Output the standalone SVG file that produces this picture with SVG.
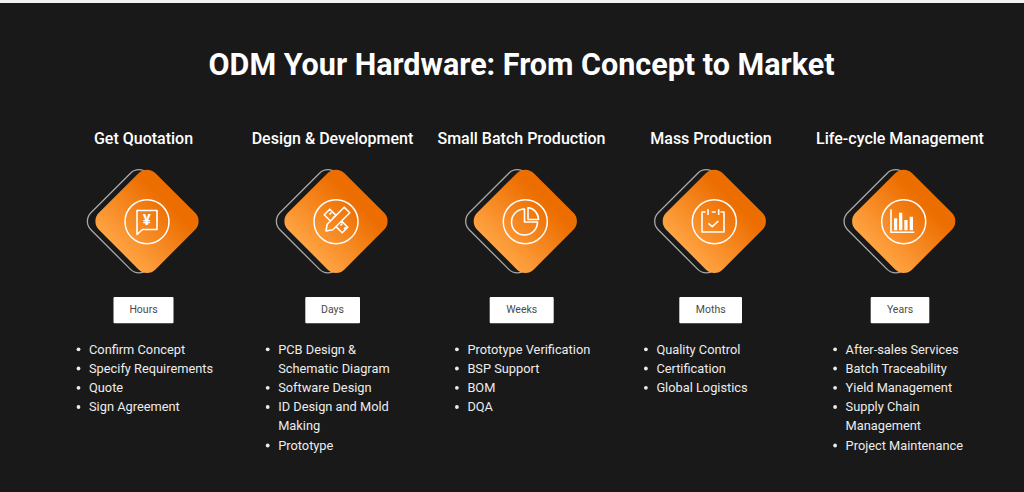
<svg xmlns="http://www.w3.org/2000/svg" width="1024" height="492" viewBox="0 0 1024 492">
<style>
text{font-family:Roboto,"Liberation Sans",sans-serif}
.title{font-size:30.5px;font-weight:700;fill:#fff;text-anchor:middle}
.head{font-size:16px;font-weight:500;fill:#fff;text-anchor:middle}
.tag{font-size:10.5px;fill:#4a4a4a;text-anchor:middle}
.item{font-size:12.8px;fill:#ececec}
.o{fill:none;stroke:#a8a8a8;stroke-width:1.3}
.d{fill:url(#g)}
.btn{fill:#fff}
.ring{fill:none;stroke:#fff;stroke-width:1.5}
.ic{fill:none;stroke:#fff;stroke-width:1.6;stroke-linejoin:round}
.dot{fill:#ececec}
</style>
<defs>
<linearGradient id="g" x1="0" y1="1" x2="0" y2="0">
<stop offset="0" stop-color="#ffa342"/><stop offset="0.85" stop-color="#ec6d00"/><stop offset="1" stop-color="#ec6d00"/>
</linearGradient>
<g id="dia">
<rect class="o" x="-40" y="-40" width="80" height="80" rx="12" transform="translate(-8 0) rotate(45)"/>
<rect class="d" x="-40" y="-40" width="80" height="80" rx="12" transform="rotate(45)"/>
<circle class="ring" cx="0" cy="0.4" r="22"/>
</g>
</defs>
<rect width="1024" height="492" fill="#191919"/>
<rect width="1024" height="3" fill="#f2f2f2"/>
<text class="title" x="521.500" y="75">ODM Your Hardware: From Concept to Market</text>

<g id="node-quotation">
<text class="head" x="143.500" y="144">Get Quotation</text>
<use href="#dia" x="147" y="221.300"/>
<path class="ic" d="M137 210.500h20v19h-14.500l-5.500 5z"/>
<text x="146.800" y="225" font-size="15" font-weight="700" fill="#fff" text-anchor="middle">¥</text>
<rect class="btn" x="113.500" y="297" width="60" height="26.300" rx="1"/>
<text class="tag" x="143.500" y="313.300">Hours</text>
<circle class="dot" cx="78.500" cy="349.300" r="1.900"/><text class="item" x="89" y="353.600">Confirm Concept</text>
<circle class="dot" cx="78.500" cy="368.500" r="1.900"/><text class="item" x="89" y="372.800">Specify Requirements</text>
<circle class="dot" cx="78.500" cy="387.800" r="1.900"/><text class="item" x="89" y="392">Quote</text>
<circle class="dot" cx="78.500" cy="407" r="1.900"/><text class="item" x="89" y="411.200">Sign Agreement</text>
</g>

<g id="node-design">
<text class="head" x="332.500" y="144">Design &amp; Development</text>
<use href="#dia" x="336" y="221.300"/>
<path class="ic" d="M326 231l1.200-6.800 17-17 5.600 5.600-17 17zM336 215.400l-6.200-6.200-5.600 5.600 6.200 6.200M341.600 221l6.200 6.200-5.600 5.600-6.200-6.200"/>
<path class="ic" stroke-width="1" d="M329.500 214.500l2-2M333 218l2-2M340.500 225.500l2-2M344 229l2-2"/>
<rect class="btn" x="305.300" y="297" width="54.700" height="26.300" rx="1"/>
<text class="tag" x="332.500" y="313.300">Days</text>
<circle class="dot" cx="267.700" cy="349.300" r="1.900"/><text class="item" x="278.200" y="353.600">PCB Design &amp;</text>
<text class="item" x="278.200" y="372.800">Schematic Diagram</text>
<circle class="dot" cx="267.700" cy="387.800" r="1.900"/><text class="item" x="278.200" y="392">Software Design</text>
<circle class="dot" cx="267.700" cy="407" r="1.900"/><text class="item" x="278.200" y="411.200">ID Design and Mold</text>
<text class="item" x="278.200" y="430.400">Making</text>
<circle class="dot" cx="267.700" cy="445.500" r="1.900"/><text class="item" x="278.200" y="449.600">Prototype</text>
</g>

<g id="node-batch">
<text class="head" x="521.500" y="144">Small Batch Production</text>
<use href="#dia" x="525.300" y="221.300"/>
<path class="ic" d="M524.500 209a13 13 0 1 0 13 13h-13z"/>
<path class="ic" d="M528 207.800v11.700h10.500a11 12 0 0 0-10.500-11.700z"/>
<rect class="btn" x="489.700" y="297" width="64" height="26.300" rx="1"/>
<text class="tag" x="521.700" y="313.300">Weeks</text>
<circle class="dot" cx="456.900" cy="349.300" r="1.900"/><text class="item" x="467.400" y="353.600">Prototype Verification</text>
<circle class="dot" cx="456.900" cy="368.500" r="1.900"/><text class="item" x="467.400" y="372.800">BSP Support</text>
<circle class="dot" cx="456.900" cy="387.800" r="1.900"/><text class="item" x="467.400" y="392">BOM</text>
<circle class="dot" cx="456.900" cy="407" r="1.900"/><text class="item" x="467.400" y="411.200">DQA</text>
</g>

<g id="node-mass">
<text class="head" x="711" y="144">Mass Production</text>
<use href="#dia" x="714.300" y="221.300"/>
<path class="ic" d="M705.500 212h-3.500v20h22v-20h-3.500M708 209.300v5.700M718.700 209.300v5.700M711.700 212h4M708.300 223.300l4 3.400 6-5.700"/>
<rect class="btn" x="679.300" y="297" width="62.700" height="26.300" rx="1"/>
<text class="tag" x="710.700" y="313.300">Moths</text>
<circle class="dot" cx="645.900" cy="349.300" r="1.900"/><text class="item" x="656.400" y="353.600">Quality Control</text>
<circle class="dot" cx="645.900" cy="368.500" r="1.900"/><text class="item" x="656.400" y="372.800">Certification</text>
<circle class="dot" cx="645.900" cy="387.800" r="1.900"/><text class="item" x="656.400" y="392">Global Logistics</text>
</g>

<g id="node-lifecycle">
<text class="head" x="900" y="144">Life-cycle Management</text>
<use href="#dia" x="903.700" y="221.300"/>
<path class="ic" d="M891 209.300v23h23.300"/>
<path d="M894 218.300h3.200v12H894zM899 212.700h3.300v17.600H899zM904.300 220h3.300v10.300h-3.300zM909.700 216.700h3.300v13.600h-3.300z" fill="#fff"/>
<rect class="btn" x="870.700" y="297" width="58.600" height="26.300" rx="1"/>
<text class="tag" x="900" y="313.300">Years</text>
<circle class="dot" cx="835.100" cy="349.300" r="1.900"/><text class="item" x="845.600" y="353.600">After-sales Services</text>
<circle class="dot" cx="835.100" cy="368.500" r="1.900"/><text class="item" x="845.600" y="372.800">Batch Traceability</text>
<circle class="dot" cx="835.100" cy="387.800" r="1.900"/><text class="item" x="845.600" y="392">Yield Management</text>
<circle class="dot" cx="835.100" cy="407" r="1.900"/><text class="item" x="845.600" y="411.200">Supply Chain</text>
<text class="item" x="845.600" y="430.400">Management</text>
<circle class="dot" cx="835.100" cy="445.500" r="1.900"/><text class="item" x="845.600" y="449.600">Project Maintenance</text>
</g>
<g id="connectors"/>
</svg>
